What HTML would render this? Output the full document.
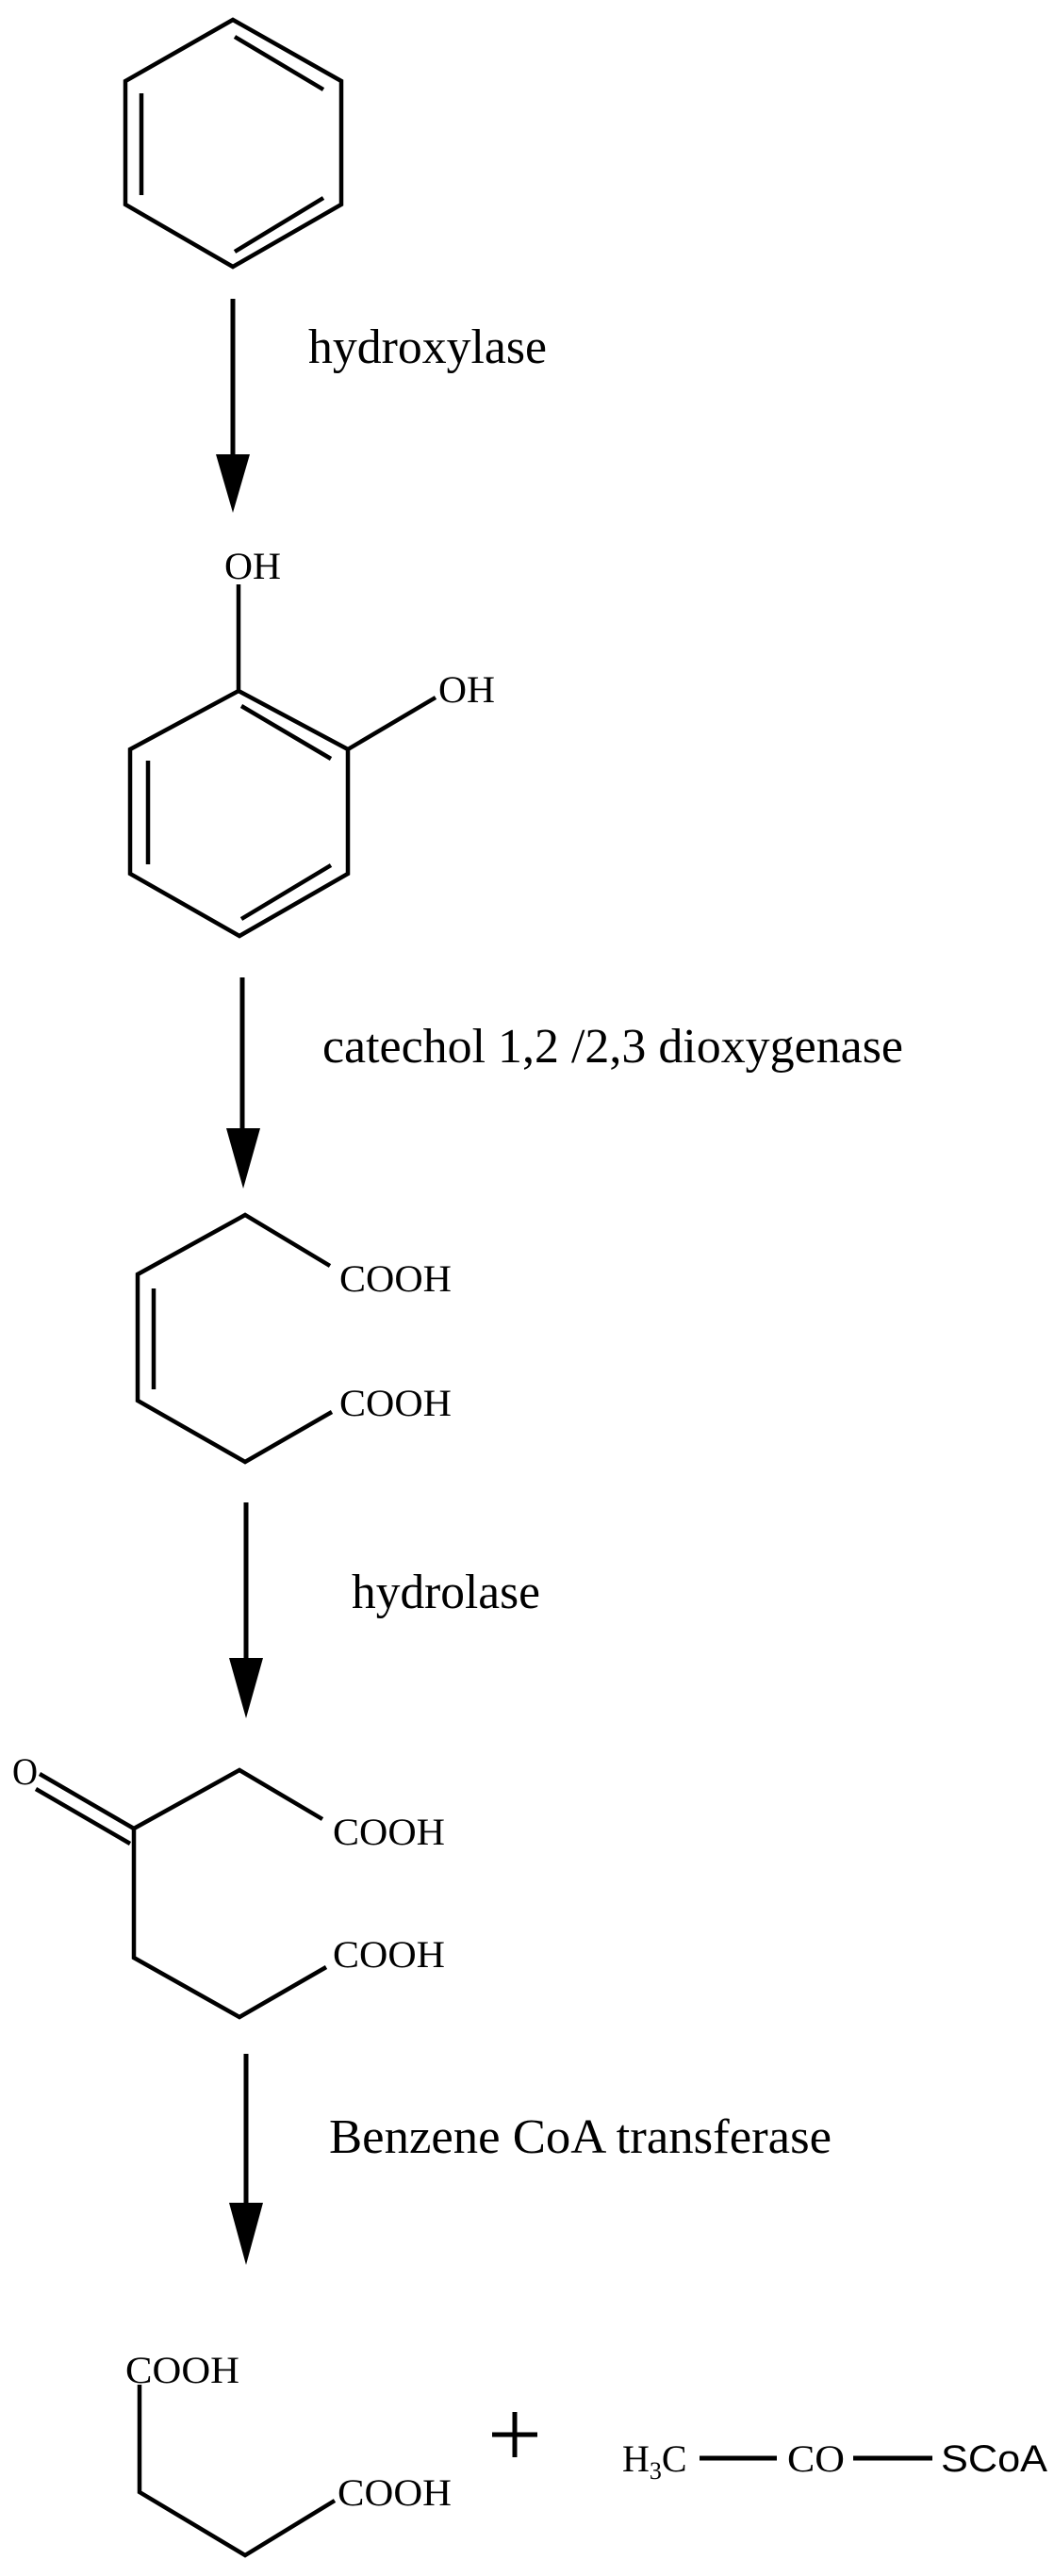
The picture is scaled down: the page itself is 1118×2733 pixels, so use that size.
<!DOCTYPE html>
<html><head><meta charset="utf-8"><style>
html,body{margin:0;padding:0;background:#fff;}
svg{display:block;}
text{font-family:"Liberation Serif",serif;fill:#000;}
</style></head><body>
<svg width="1118" height="2733" viewBox="0 0 1118 2733" xmlns="http://www.w3.org/2000/svg">
<g stroke="#000" stroke-width="4.5" fill="none" stroke-linejoin="miter" stroke-linecap="butt">
<!-- benzene -->
<polygon points="247,21 362,86 362,217 247,283 133,217 133,86"/>
<line x1="150" y1="99" x2="150" y2="207"/>
<line x1="249" y1="39" x2="343" y2="95"/>
<line x1="249" y1="267" x2="343" y2="210"/>
<!-- catechol -->
<polygon points="253,733 369,795 369,927 254,993 138,927 138,795"/>
<line x1="157" y1="807" x2="157" y2="917"/>
<line x1="256" y1="749" x2="351" y2="805"/>
<line x1="256" y1="975" x2="351" y2="918"/>
<line x1="253" y1="733" x2="253" y2="620"/>
<line x1="369" y1="795" x2="462" y2="740"/>
<!-- muconic -->
<polyline points="350,1343 260,1289 146,1352 146,1486 260,1551 352,1498"/>
<line x1="163" y1="1367" x2="163" y2="1474"/>
<!-- keto -->
<polyline points="342,1930 254,1878 142,1940 142,2077 254,2140 346,2087"/>
<line x1="142" y1="1940" x2="42" y2="1882"/>
<line x1="138" y1="1956" x2="38" y2="1898"/>
<!-- final -->
<polyline points="148,2530 148,2644 260,2711 355,2653"/>
<line x1="742" y1="2608" x2="824" y2="2608" stroke-width="5"/>
<line x1="905" y1="2608" x2="989" y2="2608" stroke-width="5"/>
<line x1="546" y1="2559" x2="546" y2="2607" stroke-width="5"/>
<line x1="522" y1="2583" x2="570" y2="2583" stroke-width="5"/>
</g>
<!-- arrows -->
<g stroke="#000" stroke-width="5">
<line x1="247" y1="317" x2="247" y2="490"/>
<line x1="257" y1="1037" x2="257" y2="1205"/>
<line x1="261" y1="1594" x2="261" y2="1765"/>
<line x1="261" y1="2179" x2="261" y2="2345"/>
</g>
<g fill="#000">
<polygon points="229,482 265,482 247,544"/>
<polygon points="240,1197 276,1197 258,1261"/>
<polygon points="243,1759 279,1759 261,1823"/>
<polygon points="243,2337 279,2337 261,2403"/>
</g>
<text x="327" y="385" font-size="52" textLength="253" lengthAdjust="spacingAndGlyphs">hydroxylase</text>
<text x="342" y="1127" font-size="52" textLength="616" lengthAdjust="spacingAndGlyphs">catechol 1,2 /2,3 dioxygenase</text>
<text x="373" y="1706" font-size="52" textLength="200" lengthAdjust="spacingAndGlyphs">hydrolase</text>
<text x="349" y="2284" font-size="52" textLength="533" lengthAdjust="spacingAndGlyphs">Benzene CoA transferase</text>
<text x="238" y="614" font-size="40" textLength="60" lengthAdjust="spacingAndGlyphs">OH</text>
<text x="465" y="745" font-size="40" textLength="60" lengthAdjust="spacingAndGlyphs">OH</text>
<text x="360" y="1370" font-size="40" textLength="119" lengthAdjust="spacingAndGlyphs">COOH</text>
<text x="360" y="1502" font-size="40" textLength="119" lengthAdjust="spacingAndGlyphs">COOH</text>
<text x="13" y="1893" font-size="40" textLength="27" lengthAdjust="spacingAndGlyphs">O</text>
<text x="353" y="1957" font-size="40" textLength="119" lengthAdjust="spacingAndGlyphs">COOH</text>
<text x="353" y="2087" font-size="40" textLength="119" lengthAdjust="spacingAndGlyphs">COOH</text>
<text x="133" y="2528" font-size="40" textLength="121" lengthAdjust="spacingAndGlyphs">COOH</text>
<text x="358" y="2658" font-size="40" textLength="121" lengthAdjust="spacingAndGlyphs">COOH</text>
<text x="660" y="2622" font-size="40">H<tspan font-size="26" dy="8">3</tspan><tspan dy="-8">C</tspan></text>
<text x="835" y="2622" font-size="40" textLength="61" lengthAdjust="spacingAndGlyphs">CO</text>
<text x="998" y="2622" font-size="40" style="font-family:'Liberation Sans',sans-serif" textLength="113" lengthAdjust="spacingAndGlyphs">SCoA</text>
</svg>
</body></html>
